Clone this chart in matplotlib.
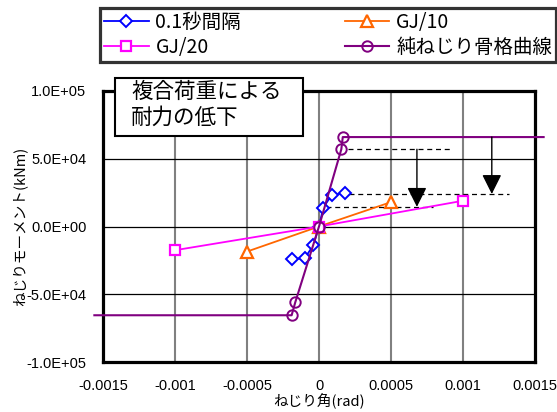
import numpy as np
import matplotlib
matplotlib.use("Agg")
import matplotlib.pyplot as plt
from matplotlib.patches import Rectangle

# data
blue_x = [-0.00019, -0.0001, -0.00004, 0.0, 0.00003, 0.00009, 0.00018]
blue_y = [-24000, -23500, -14000, 0, 14000, 23500, 24500]
orange_x = [-0.0005, 0.0, 0.0005]
orange_y = [-18500, 0, 18000]
mag_x = [-0.001, 0.0, 0.001]
mag_y = [-17500, 0, 19000]
pur_x = [-0.00156, -0.00019, -0.000165, 0.0, 0.000155, 0.000165, 0.00156]
pur_y = [-65500, -65500, -56000, 0, 57000, 66000, 66000]

dash_y = [57000, 24000, 14500]
dash_x0 = [0.0002, 0.00021, 0.00005]
dash_x1 = [0.00091, 0.00132, 0.00079]

arrow_x = [0.00068, 0.0012]
arrow_y0 = [57000, 66000]
arrow_y1 = [14500, 24000]

xticks = [-0.0015, -0.001, -0.0005, 0, 0.0005, 0.001, 0.0015]
xtick_labels = ["-0.0015", "-0.001", "-0.0005", "0", "0.0005", "0.001", "0.0015"]
yticks = [-100000, -50000, 0, 50000, 100000]
ytick_labels = ["-1.0E+05", "-5.0E+04", "0.0E+00", "5.0E+04", "1.0E+05"]

names = ["0.1秒間隔", "GJ/10", "GJ/20", "純ねじり骨格曲線"]
note = "複合荷重による\n耐力の低下"

jp = ["Noto Sans CJK JP", "DejaVu Sans"]
num = ["Liberation Sans", "DejaVu Sans"]

fig = plt.figure(figsize=(5.57, 4.12), dpi=100)
ax = fig.add_axes([103/557, 1-362/412, 432/557, 271/412])

ax.set_xlim(-0.0015, 0.0015)
ax.set_ylim(-100000, 100000)

for x in [-0.001, -0.0005, 0, 0.0005, 0.001]:
    ax.axvline(x, color="#808080", lw=1.5, zorder=1)
for y in [-50000, 0, 50000]:
    ax.axhline(y, color="black", lw=0.9, zorder=1)

l1, = ax.plot(blue_x, blue_y, color="#0000FF", lw=1.3, marker="D", ms=6.5,
              mfc="white", mec="#0000FF", mew=1.4, zorder=3)
l2, = ax.plot(orange_x, orange_y, color="#FF6600", lw=1.3, marker="^", ms=9,
              mfc="white", mec="#FF6600", mew=1.6, zorder=3)
l3, = ax.plot(mag_x, mag_y, color="#FF00FF", lw=1.3, marker="s", ms=7.5,
              mfc="white", mec="#FF00FF", mew=1.6, zorder=3)
l4, = ax.plot(pur_x, pur_y, color="#800080", lw=1.5, marker="o", ms=7.5,
              mfc="none", mec="#800080", mew=1.4, markevery=[1, 2, 3, 4, 5],
              clip_on=False, zorder=4)

ax.hlines(dash_y, dash_x0, dash_x1, colors="black", lw=0.9,
          linestyles=(0, (4, 3)), zorder=2)
for x, y0, y1 in zip(arrow_x, arrow_y0, arrow_y1):
    ax.annotate("", xy=(x, y1), xytext=(x, y0),
                arrowprops=dict(arrowstyle="-|>,head_length=1.2,head_width=0.6",
                                mutation_scale=10, lw=1, color="black",
                                shrinkA=0, shrinkB=0), zorder=5)

ax.set_xticks(xticks)
ax.set_xticklabels(xtick_labels, family=num, fontsize=10.5)
ax.set_yticks(yticks)
ax.set_yticklabels(ytick_labels, family=num, fontsize=10.5)
ax.tick_params(length=0, pad=12)
for s in ax.spines.values():
    s.set_linewidth(2.3)
    s.set_zorder(3)

ax.set_xlabel("ねじり角(rad)", family=jp, fontsize=10.5)
ax.xaxis.set_label_coords(0.5, -0.115)
ax.set_ylabel("ねじりモーメント(kNm)", family=jp, fontsize=10.5)
ax.yaxis.set_label_coords(-0.175, 0.5)

# note box
fig.patches.append(Rectangle((115/557, 1-136/412), 188/557, 58/412,
                             transform=fig.transFigure, facecolor="white",
                             edgecolor="black", lw=1.5, zorder=10))
fig.text(131/557, 1-81/412, note, family=jp, fontsize=15.5, va="top", ha="left",
         linespacing=1.2, zorder=11)

leg = fig.legend([l1, l3, l2, l4], [names[0], names[2], names[1], names[3]],
                 ncol=2, loc="lower left", mode="expand",
                 bbox_to_anchor=(100/557, 1-62/412, 456/557, 55/412),
                 prop={"family": jp, "size": 14}, frameon=True, fancybox=False,
                 edgecolor="black", handlelength=2.3, handletextpad=0.35,
                 borderpad=0.2, labelspacing=0.2, borderaxespad=0,
                 columnspacing=2.0)
leg.get_frame().set_linewidth(2.3)

fig.savefig("out.png", dpi=100)
